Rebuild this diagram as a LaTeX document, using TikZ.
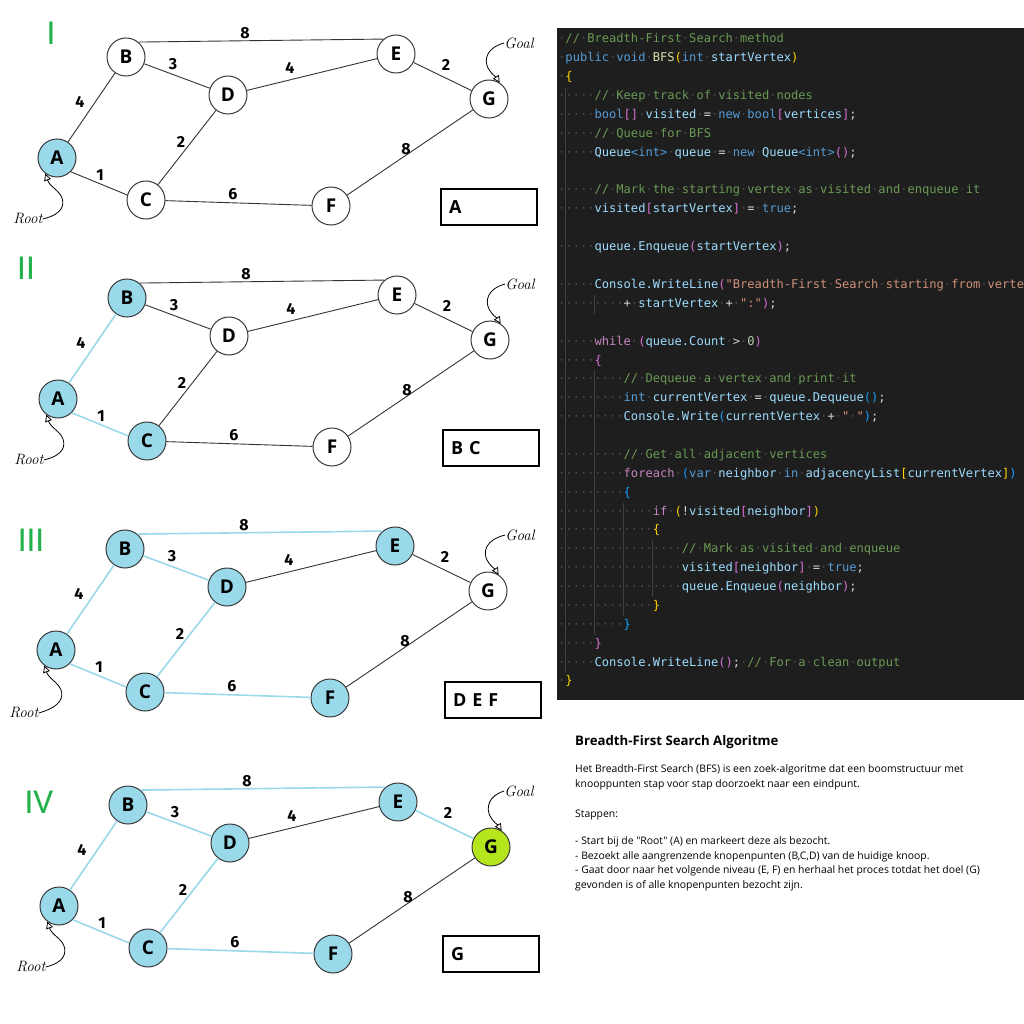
\documentclass[tikz,border=0pt]{standalone}
\usepackage{fontspec}
\newfontfamily\sansfont{Open Sans}
\newfontfamily\codefont{DejaVu Sans Mono}
\newfontfamily\romanfont{Carlito}
\newfontfamily\digitfont{Fira Sans}
\usepackage{tikz}
\usetikzlibrary{arrows.meta,positioning,calc}

\definecolor{visit}{HTML}{99D9EA}
\definecolor{goalgreen}{HTML}{B5E61D}
\definecolor{romangreen}{HTML}{22B14C}
\definecolor{nodeline}{HTML}{3A3A3A}
\definecolor{edgeblack}{HTML}{333333}
\definecolor{codebg}{HTML}{1E1E1E}
\definecolor{guide}{HTML}{404040}
\definecolor{wsdot}{HTML}{4B4B4B}
\definecolor{cmt}{HTML}{6A9955}
\definecolor{kw}{HTML}{569CD6}
\definecolor{ctl}{HTML}{C586C0}
\definecolor{var}{HTML}{9CDCFE}
\definecolor{fn}{HTML}{DCDCAA}
\definecolor{str}{HTML}{CE9178}
\definecolor{num}{HTML}{B5CEA8}
\definecolor{txt}{HTML}{D4D4D4}
\definecolor{bra}{HTML}{FFD700}
\definecolor{brb}{HTML}{DA70D6}
\definecolor{brc}{HTML}{179FFF}

\newcommand{\ws}{\textcolor{wsdot}{·}}
\newcommand{\tb}{\ws\ws\ws\ws}
\newcommand{\Kw}[1]{\textcolor{kw}{#1}}
\newcommand{\Ctl}[1]{\textcolor{ctl}{#1}}
\newcommand{\Vr}[1]{\textcolor{var}{#1}}
\newcommand{\Fn}[1]{\textcolor{fn}{#1}}
\newcommand{\Cm}[1]{\textcolor{cmt}{#1}}
\newcommand{\Str}[1]{\textcolor{str}{#1}}
\newcommand{\Num}[1]{\textcolor{num}{#1}}
\newcommand{\Tx}[1]{\textcolor{txt}{#1}}
\newcommand{\BrA}[1]{\textcolor{bra}{#1}}
\newcommand{\BrB}[1]{\textcolor{brb}{#1}}
\newcommand{\BrC}[1]{\textcolor{brc}{#1}}

\tikzset{
  vertex/.style={circle, draw=nodeline, line width=1pt, fill=white, minimum size=38pt, inner sep=0pt, font=\sansfont\bfseries\fontsize{19}{19}\selectfont},
  visited/.style={fill=visit},
  goalnode/.style={fill=goalgreen},
  graphedge/.style={draw=edgeblack, line width=0.9pt},
  visitededge/.style={draw=visit, line width=1.6pt},
  wlabel/.style={inner sep=0pt, font=\digitfont\bfseries\fontsize{16}{16}\selectfont},
  roman/.style={text=romangreen, inner sep=0pt, font=\romanfont\fontsize{35}{35}\selectfont},
  hand/.style={inner sep=0pt, font=\itshape\fontsize{15}{15}\selectfont},
  pointer/.style={line width=0.8pt, -{Triangle[fill=white,length=7pt,width=7pt]}},
  queuebox/.style={draw, line width=1.4pt, fill=white, minimum width=96pt, minimum height=36pt, text width=80pt, inner xsep=8pt, align=left, font=\sansfont\bfseries\fontsize{18}{18}\selectfont},
  codeline/.style={anchor=west, inner sep=0pt, yshift=-2pt, text=txt, text height=9pt, text depth=3pt, font=\codefont\fontsize{12.09}{14}\selectfont},
  indentguide/.style={draw=guide, line width=0.8pt},
  para/.style={anchor=west, inner sep=0pt, font=\sansfont\fontsize{10.4}{12}\selectfont},
}

\begin{document}
\begin{tikzpicture}[x=1pt,y=-1pt]
  \useasboundingbox (0,0) rectangle (1024,1024); % 画面全体
  \fill[white] (0,0) rectangle (1024,1024); % 白い背景

  % ---- I ----
  \begin{scope}[shift={(0,0)}]
    \node[roman] (r1) at (51,33) {I}; % 段階の番号
    \node[vertex, visited] (a1) at (57,158) {A}; % 根
    \node[vertex] (b1) at (126,57) {B};
    \node[vertex] (c1) at (146,200) {C};
    \node[vertex] (d1) at (228,95) {D};
    \node[vertex] (e1) at (396,54) {E};
    \node[vertex] (f1) at (331,206) {F};
    \node[vertex] (g1) at (489,99) {G}; % 目標
    \draw[graphedge] (a1) -- (b1);
    \draw[graphedge] (a1.-45) -- (c1.165);
    \draw[graphedge] (b1) -- (d1);
    \draw[graphedge] (b1.50) -- (e1.130);
    \draw[graphedge] (c1) -- (d1);
    \draw[graphedge] (d1) -- (e1);
    \draw[graphedge] (c1) -- (f1);
    \draw[graphedge] (e1) -- (g1);
    \draw[graphedge] (f1) -- (g1);
    \node[wlabel] (w1ab) at (80,102) {4}; % 辺の重み
    \node[wlabel] (w1ac) at (100,175) {1};
    \node[wlabel] (w1bd) at (173,64) {3};
    \node[wlabel] (w1be) at (245,33) {8};
    \node[wlabel] (w1cd) at (181,142) {2};
    \node[wlabel] (w1de) at (290,68) {4};
    \node[wlabel] (w1cf) at (233,194) {6};
    \node[wlabel] (w1eg) at (446,65) {2};
    \node[wlabel] (w1fg) at (406,149) {8};
    \node[hand] (root1) at (28,219) {Root};
    \node[hand] (goal1) at (519,43) {Goal};
    \draw[pointer] (root1.east) .. controls (64,214) and (64,204) .. (62,198) .. controls (59,190) and (50,187) .. (a1.-127);
    \draw[pointer] (goal1.west) .. controls (486,48) and (484,60) .. (488,68) .. controls (492,75) and (496,77) .. (g1.57);
    \node[queuebox] (q1) at (489,207) {A}; % キューの中身
  \end{scope}

  % ---- II ----
  \begin{scope}[shift={(1,241)}]
    \node[roman] (r2) at (25,27) {II};
    \node[vertex, visited] (a2) at (57,158) {A};
    \node[vertex, visited] (b2) at (126,57) {B};
    \node[vertex, visited] (c2) at (146,200) {C};
    \node[vertex] (d2) at (228,95) {D};
    \node[vertex] (e2) at (396,54) {E};
    \node[vertex] (f2) at (331,206) {F};
    \node[vertex] (g2) at (489,99) {G};
    \draw[visitededge] (a2) -- (b2); % 訪問した辺
    \draw[visitededge] (a2.-45) -- (c2.165);
    \draw[graphedge] (b2) -- (d2);
    \draw[graphedge] (b2.50) -- (e2.130);
    \draw[graphedge] (c2) -- (d2);
    \draw[graphedge] (d2) -- (e2);
    \draw[graphedge] (c2) -- (f2);
    \draw[graphedge] (e2) -- (g2);
    \draw[graphedge] (f2) -- (g2);
    \node[wlabel] (w2ab) at (80,102) {4};
    \node[wlabel] (w2ac) at (100,175) {1};
    \node[wlabel] (w2bd) at (173,64) {3};
    \node[wlabel] (w2be) at (245,33) {8};
    \node[wlabel] (w2cd) at (181,142) {2};
    \node[wlabel] (w2de) at (290,68) {4};
    \node[wlabel] (w2cf) at (233,194) {6};
    \node[wlabel] (w2eg) at (446,65) {2};
    \node[wlabel] (w2fg) at (406,149) {8};
    \node[hand] (root2) at (28,219) {Root};
    \node[hand] (goal2) at (519,43) {Goal};
    \draw[pointer] (root2.east) .. controls (64,214) and (64,204) .. (62,198) .. controls (59,190) and (50,187) .. (a2.-127);
    \draw[pointer] (goal2.west) .. controls (486,48) and (484,60) .. (488,68) .. controls (492,75) and (496,77) .. (g2.57);
    \node[queuebox] (q2) at (490,207) {B C};
  \end{scope}

  % ---- III ----
  \begin{scope}[shift={(-1,492)}]
    \node[roman] (r3) at (32,48) {III};
    \node[vertex, visited] (a3) at (57,158) {A};
    \node[vertex, visited] (b3) at (126,57) {B};
    \node[vertex, visited] (c3) at (146,200) {C};
    \node[vertex, visited] (d3) at (228,95) {D};
    \node[vertex, visited] (e3) at (396,54) {E};
    \node[vertex, visited] (f3) at (331,206) {F};
    \node[vertex] (g3) at (489,99) {G};
    \draw[visitededge] (a3) -- (b3);
    \draw[visitededge] (a3.-45) -- (c3.165);
    \draw[visitededge] (b3) -- (d3);
    \draw[visitededge] (b3.50) -- (e3.130);
    \draw[visitededge] (c3) -- (d3);
    \draw[graphedge] (d3) -- (e3);
    \draw[visitededge] (c3) -- (f3);
    \draw[graphedge] (e3) -- (g3);
    \draw[graphedge] (f3) -- (g3);
    \node[wlabel] (w3ab) at (80,102) {4};
    \node[wlabel] (w3ac) at (100,175) {1};
    \node[wlabel] (w3bd) at (173,64) {3};
    \node[wlabel] (w3be) at (245,33) {8};
    \node[wlabel] (w3cd) at (181,142) {2};
    \node[wlabel] (w3de) at (290,68) {4};
    \node[wlabel] (w3cf) at (233,194) {6};
    \node[wlabel] (w3eg) at (446,65) {2};
    \node[wlabel] (w3fg) at (406,149) {8};
    \node[hand] (root3) at (25,221) {Root};
    \node[hand] (goal3) at (521,43) {Goal};
    \draw[pointer] (root3.east) .. controls (64,214) and (64,204) .. (62,198) .. controls (59,190) and (50,187) .. (a3.-127);
    \draw[pointer] (goal3.west) .. controls (486,48) and (484,60) .. (488,68) .. controls (492,75) and (496,77) .. (g3.57);
    \node[queuebox] (q3) at (494,208) {D E F};
  \end{scope}

  % ---- IV ----
  \begin{scope}[shift={(2,748)}]
    \node[roman] (r4) at (37,54) {IV};
    \node[vertex, visited] (a4) at (57,158) {A};
    \node[vertex, visited] (b4) at (126,57) {B};
    \node[vertex, visited] (c4) at (146,200) {C};
    \node[vertex, visited] (d4) at (228,95) {D};
    \node[vertex, visited] (e4) at (396,54) {E};
    \node[vertex, visited] (f4) at (331,206) {F};
    \node[vertex, goalnode] (g4) at (489,99) {G}; % 目標に到達
    \draw[visitededge] (a4) -- (b4);
    \draw[visitededge] (a4.-45) -- (c4.165);
    \draw[visitededge] (b4) -- (d4);
    \draw[visitededge] (b4.50) -- (e4.130);
    \draw[visitededge] (c4) -- (d4);
    \draw[graphedge] (d4) -- (e4);
    \draw[visitededge] (c4) -- (f4);
    \draw[visitededge] (e4) -- (g4);
    \draw[graphedge] (f4) -- (g4);
    \node[wlabel] (w4ab) at (80,102) {4};
    \node[wlabel] (w4ac) at (100,175) {1};
    \node[wlabel] (w4bd) at (173,64) {3};
    \node[wlabel] (w4be) at (245,33) {8};
    \node[wlabel] (w4cd) at (181,142) {2};
    \node[wlabel] (w4de) at (290,68) {4};
    \node[wlabel] (w4cf) at (233,194) {6};
    \node[wlabel] (w4eg) at (446,65) {2};
    \node[wlabel] (w4fg) at (406,149) {8};
    \node[hand] (root4) at (29,219) {Root};
    \node[hand] (goal4) at (517,43) {Goal};
    \draw[pointer] (root4.east) .. controls (64,214) and (64,204) .. (62,198) .. controls (59,190) and (50,187) .. (a4.-127);
    \draw[pointer] (goal4.west) .. controls (486,48) and (484,60) .. (488,68) .. controls (492,75) and (496,77) .. (g4.57);
    \node[queuebox] (q4) at (489,206) {G};
  \end{scope}

  % ---- コード ----
  \fill[codebg] (557,28) rectangle (1024,700); % エディタの背景
  \draw[indentguide] (565.3,87) -- (565.3,672); % インデントの補助線
  \draw[indentguide] (594.4,295) -- (594.4,314);
  \draw[indentguide] (594.4,370) -- (594.4,635);
  \draw[indentguide] (623.5,503) -- (623.5,616);
  \draw[indentguide] (652.6,540) -- (652.6,597);
  \node[codeline] (l1) at (558,38.0) {\ws\Cm{//\ws Breadth-First\ws Search\ws method}};
  \node[codeline] (l2) at (558,56.9) {\ws\Kw{public}\ws\Kw{void}\ws\Fn{BFS}\BrA{(}\Kw{int}\ws\Vr{startVertex}\BrA{)}};
  \node[codeline] (l3) at (558,75.8) {\ws\BrA{\{}};
  \node[codeline] (l4) at (558,94.6) {\ws\tb\Cm{//\ws Keep\ws track\ws of\ws visited\ws nodes}};
  \node[codeline] (l5) at (558,113.5) {\ws\tb\Kw{bool}\BrB{[]}\ws\Vr{visited}\ws\Tx{=}\ws\Kw{new}\ws\Kw{bool}\BrB{[}\Vr{vertices}\BrB{]}\Tx{;}};
  \node[codeline] (l6) at (558,132.4) {\ws\tb\Cm{//\ws Queue\ws for\ws BFS}};
  \node[codeline] (l7) at (558,151.3) {\ws\tb\Vr{Queue}\Kw{<int>}\ws\Vr{queue}\ws\Tx{=}\ws\Kw{new}\ws\Vr{Queue}\Kw{<int>}\BrB{()}\Tx{;}};
  \node[codeline] (l9) at (558,189.0) {\ws\tb\Cm{//\ws Mark\ws the\ws starting\ws vertex\ws as\ws visited\ws and\ws enqueue\ws it}};
  \node[codeline] (l10) at (558,207.9) {\ws\tb\Vr{visited}\BrB{[}\Vr{startVertex}\BrB{]}\ws\Tx{=}\ws\Kw{true}\Tx{;}};
  \node[codeline] (l12) at (558,245.7) {\ws\tb\Vr{queue.Enqueue}\BrB{(}\Vr{startVertex}\BrB{)}\Tx{;}};
  \node[codeline] (l14) at (558,283.4) {\ws\tb\Vr{Console.WriteLine}\BrB{(}\Str{"Breadth-First\ws Search\ws starting\ws from\ws verte}};
  \node[codeline] (l15) at (558,302.3) {\ws\tb\tb\Tx{+}\ws\Vr{startVertex}\ws\Tx{+}\ws\Str{":"}\BrB{)}\Tx{;}};
  \node[codeline] (l17) at (558,340.1) {\ws\tb\Ctl{while}\ws\BrB{(}\Vr{queue.Count}\ws\Tx{>}\ws\Num{0}\BrB{)}};
  \node[codeline] (l18) at (558,359.0) {\ws\tb\BrB{\{}};
  \node[codeline] (l19) at (558,377.8) {\ws\tb\tb\Cm{//\ws Dequeue\ws a\ws vertex\ws and\ws print\ws it}};
  \node[codeline] (l20) at (558,396.7) {\ws\tb\tb\Kw{int}\ws\Vr{currentVertex}\ws\Tx{=}\ws\Vr{queue.Dequeue}\BrC{()}\Tx{;}};
  \node[codeline] (l21) at (558,415.6) {\ws\tb\tb\Vr{Console.Write}\BrC{(}\Vr{currentVertex}\ws\Tx{+}\ws\Str{"\ws"}\BrC{)}\Tx{;}};
  \node[codeline] (l23) at (558,453.4) {\ws\tb\tb\Cm{//\ws Get\ws all\ws adjacent\ws vertices}};
  \node[codeline] (l24) at (558,472.2) {\ws\tb\tb\Ctl{foreach}\ws\BrC{(}\Kw{var}\ws\Vr{neighbor}\ws\Kw{in}\ws\Vr{adjacencyList}\BrA{[}\Vr{currentVertex}\BrA{]}\BrC{)}};
  \node[codeline] (l25) at (558,491.1) {\ws\tb\tb\BrC{\{}};
  \node[codeline] (l26) at (558,510.0) {\ws\tb\tb\tb\Ctl{if}\ws\BrA{(}\Tx{!}\Vr{visited}\BrB{[}\Vr{neighbor}\BrB{]}\BrA{)}};
  \node[codeline] (l27) at (558,528.9) {\ws\tb\tb\tb\BrA{\{}};
  \node[codeline] (l28) at (558,547.8) {\ws\tb\tb\tb\tb\Cm{//\ws Mark\ws as\ws visited\ws and\ws enqueue}};
  \node[codeline] (l29) at (558,566.6) {\ws\tb\tb\tb\tb\Vr{visited}\BrB{[}\Vr{neighbor}\BrB{]}\ws\Tx{=}\ws\Kw{true}\Tx{;}};
  \node[codeline] (l30) at (558,585.5) {\ws\tb\tb\tb\tb\Vr{queue.Enqueue}\BrB{(}\Vr{neighbor}\BrB{)}\Tx{;}};
  \node[codeline] (l31) at (558,604.4) {\ws\tb\tb\tb\BrA{\}}};
  \node[codeline] (l32) at (558,623.3) {\ws\tb\tb\BrC{\}}};
  \node[codeline] (l33) at (558,642.2) {\ws\tb\BrB{\}}};
  \node[codeline] (l34) at (558,661.0) {\ws\tb\Vr{Console.WriteLine}\BrB{()}\Tx{;}\ws\Cm{//\ws For\ws a\ws clean\ws output}};
  \node[codeline] (l35) at (558,679.9) {\ws\BrA{\}}};

  % ---- 説明文 ----
  \node[anchor=west, inner sep=0pt, font=\sansfont\bfseries\fontsize{13.2}{15}\selectfont] (title) at (575,742) {Breadth-First Search Algoritme};
  \node[para] (p1) at (575,770) {Het Breadth-First Search (BFS) is een zoek-algoritme dat een boomstructuur met};
  \node[para] (p2) at (575,785) {knooppunten stap voor stap doorzoekt naar een eindpunt.};
  \node[para] (p3) at (575,815) {Stappen:};
  \node[para] (p4) at (575,842) {- Start bij de "Root" (A) en markeert deze als bezocht.};
  \node[para] (p5) at (575,857) {- Bezoekt alle aangrenzende knopenpunten (B,C,D) van de huidige knoop.};
  \node[para] (p6) at (575,871) {- Gaat door naar het volgende niveau (E, F) en herhaal het proces totdat het doel (G)};
  \node[para] (p7) at (575,886) {gevonden is of alle knopenpunten bezocht zijn.};
\end{tikzpicture}
\end{document}
